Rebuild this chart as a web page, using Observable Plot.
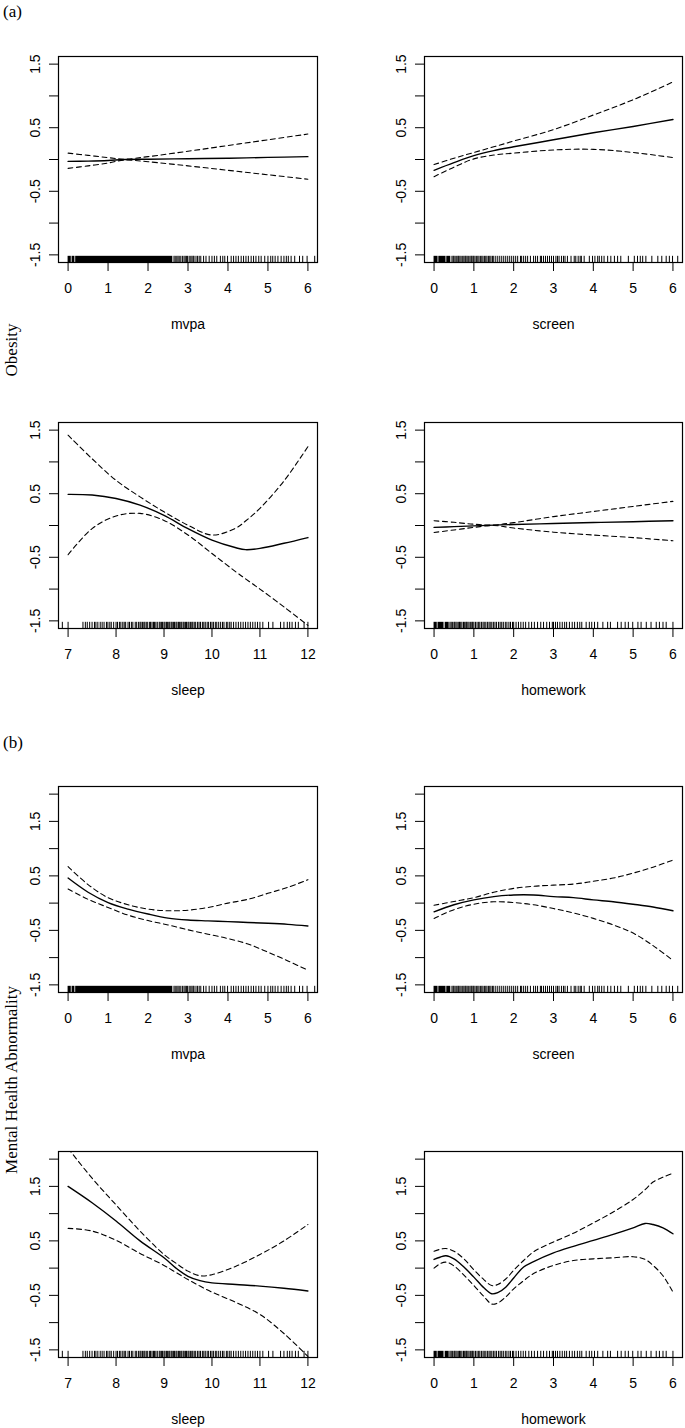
<!DOCTYPE html>
<html><head><meta charset="utf-8">
<script src="https://cdn.jsdelivr.net/npm/d3@7"></script>
<script src="https://cdn.jsdelivr.net/npm/@observablehq/plot@0.6"></script>
<style>
body{margin:0;background:#fff;}
#root{position:relative;width:685px;height:1428px;overflow:hidden;background:#fff;}
.panel{position:absolute;}
.serif{position:absolute;font-family:"Liberation Serif","Times New Roman",serif;font-size:17px;line-height:20px;color:#000;white-space:nowrap;}
.rot{transform:translate(-50%,-50%) rotate(-90deg);}
</style></head><body><div id="root"></div>
<script>
// ---------- x grids and smooth curves (fit, upper, lower) ----------
// (a) Obesity
const a_mvpa_x   = [0, 0.5, 1, 1.4, 2, 3, 4, 5, 6];
const a_mvpa_fit = [-0.03, -0.025, -0.015, 0, 0.005, 0.012, 0.02, 0.033, 0.045];
const a_mvpa_hi  = [0.10, 0.065, 0.03, 0.005, 0.045, 0.13, 0.22, 0.31, 0.40];
const a_mvpa_lo  = [-0.14, -0.10, -0.055, -0.01, -0.035, -0.10, -0.17, -0.24, -0.31];

const a_screen_x   = [0, 0.5, 1, 1.5, 2, 3, 4, 5, 6];
const a_screen_fit = [-0.17, -0.05, 0.06, 0.14, 0.2, 0.31, 0.42, 0.52, 0.63];
const a_screen_hi  = [-0.08, 0.02, 0.11, 0.2, 0.29, 0.47, 0.70, 0.94, 1.22];
const a_screen_lo  = [-0.27, -0.12, 0.01, 0.07, 0.10, 0.15, 0.16, 0.11, 0.03];

const a_sleep_x   = [7, 7.5, 8, 8.5, 9, 9.5, 10, 10.5, 10.7, 11, 11.5, 12];
const a_sleep_fit = [0.49, 0.48, 0.425, 0.32, 0.16, -0.05, -0.23, -0.35, -0.38, -0.36, -0.28, -0.19];
const a_sleep_hi  = [1.42, 1.05, 0.71, 0.45, 0.215, 0.005, -0.15, -0.04, 0.07, 0.27, 0.70, 1.24];
const a_sleep_lo  = [-0.46, -0.05, 0.15, 0.19, 0.08, -0.15, -0.44, -0.73, -0.84, -1.0, -1.28, -1.57];

const a_hw_x   = [0, 0.5, 1, 1.5, 2, 3, 4, 5, 6];
const a_hw_fit = [-0.03, -0.018, -0.006, 0.006, 0.015, 0.032, 0.047, 0.06, 0.075];
const a_hw_hi  = [0.075, 0.05, 0.02, 0.008, 0.045, 0.14, 0.22, 0.30, 0.38];
const a_hw_lo  = [-0.11, -0.07, -0.03, 0.0, -0.04, -0.105, -0.15, -0.19, -0.24];

// (b) Mental Health Abnormality
const b_mvpa_x   = [0, 0.5, 1, 1.5, 2, 2.5, 3, 3.5, 4, 4.5, 5, 5.5, 6];
const b_mvpa_fit = [0.46, 0.2, 0.01, -0.11, -0.2, -0.275, -0.31, -0.325, -0.34, -0.355, -0.37, -0.39, -0.42];
const b_mvpa_hi  = [0.67, 0.34, 0.10, -0.03, -0.11, -0.14, -0.13, -0.08, 0.0, 0.07, 0.18, 0.29, 0.43];
const b_mvpa_lo  = [0.26, 0.07, -0.08, -0.22, -0.32, -0.40, -0.49, -0.57, -0.65, -0.75, -0.9, -1.06, -1.23];

const b_screen_x   = [0, 0.5, 1, 1.5, 2, 2.5, 3, 3.5, 4, 4.5, 5, 5.5, 6];
const b_screen_fit = [-0.16, -0.03, 0.06, 0.12, 0.15, 0.15, 0.12, 0.1, 0.06, 0.025, -0.02, -0.07, -0.14];
const b_screen_hi  = [-0.04, 0.03, 0.1, 0.2, 0.27, 0.31, 0.33, 0.35, 0.40, 0.46, 0.55, 0.66, 0.79];
const b_screen_lo  = [-0.28, -0.12, -0.02, 0.025, 0.01, -0.03, -0.1, -0.18, -0.28, -0.4, -0.55, -0.78, -1.05];

const b_sleep_x   = [7, 7.5, 8, 8.5, 9, 9.25, 9.5, 9.75, 10, 10.5, 11, 11.5, 12];
const b_sleep_fit = [1.5, 1.2, 0.865, 0.5, 0.19, 0.0, -0.15, -0.23, -0.27, -0.3, -0.33, -0.37, -0.42];
const b_sleep_hi  = [2.2, 1.65, 1.16, 0.68, 0.25, 0.09, -0.055, -0.14, -0.12, 0.035, 0.25, 0.5, 0.8];
const b_sleep_lo  = [0.73, 0.68, 0.51, 0.27, 0.05, -0.08, -0.21, -0.33, -0.44, -0.63, -0.85, -1.2, -1.62];

const b_hw_x   = [0, 0.15, 0.3, 0.5, 0.75, 1, 1.25, 1.45, 1.6, 1.8, 2, 2.25, 2.5, 3, 3.5, 4, 4.5, 5, 5.3, 5.5, 5.75, 6];
const b_hw_fit = [0.16, 0.2, 0.227, 0.17, 0.02, -0.165, -0.36, -0.47, -0.45, -0.35, -0.18, 0.02, 0.12, 0.28, 0.4, 0.51, 0.62, 0.74, 0.82, 0.8, 0.74, 0.63];
const b_hw_hi  = [0.31, 0.345, 0.36, 0.31, 0.17, -0.03, -0.21, -0.32, -0.3, -0.2, -0.04, 0.14, 0.3, 0.48, 0.64, 0.83, 1.03, 1.26, 1.44, 1.58, 1.67, 1.74];
const b_hw_lo  = [0.0, 0.08, 0.11, 0.04, -0.13, -0.32, -0.52, -0.66, -0.64, -0.53, -0.38, -0.23, -0.1, 0.05, 0.14, 0.17, 0.19, 0.21, 0.16, 0.05, -0.14, -0.44];

// ---------- rug (observed values) ----------
const mvpaRugSolid = [[0.0, 0.08], [0.1, 0.17], [0.19, 2.62]];
const mvpaRug = [2.65,2.68,2.72,2.75,2.78,2.82,2.86,2.9,2.93,2.96,2.99,3.03,3.07,3.10,3.13,3.15,3.2,3.24,3.28,3.32,3.39,3.45,3.53,3.60,3.66,3.72,3.81,3.87,3.92,3.99,4.08,4.14,4.20,4.26,4.33,4.39,4.45,4.51,4.58,4.64,4.70,4.77,4.83,4.92,5.0,5.07,5.12,5.18,5.25,5.33,5.40,5.46,5.51,5.58,5.67,5.79,5.87,5.98,6.17];

const screenRugSolid = [[0.0, 0.1], [0.12, 0.3], [0.32, 0.42]];
const screenRug = [0.45,0.48,0.5,0.53,0.57,0.6,0.62,0.65,0.68,0.72,0.75,0.78,0.8,0.83,0.86,0.9,0.93,0.95,0.98,1.0,1.03,1.07,1.1,1.13,1.17,1.2,1.23,1.27,1.3,1.33,1.37,1.4,1.43,1.47,1.5,1.55,1.6,1.65,1.7,1.75,1.8,1.85,1.9,1.95,2.0,2.05,2.1,2.17,2.2,2.25,2.3,2.35,2.42,2.5,2.55,2.6,2.67,2.7,2.75,2.8,2.85,2.9,2.95,3.0,3.06,3.10,3.14,3.20,3.25,3.29,3.35,3.44,3.52,3.56,3.62,3.67,3.70,3.77,3.90,3.98,4.04,4.11,4.15,4.21,4.27,4.36,4.44,4.53,4.61,4.69,4.88,5.03,5.11,5.18,5.24,5.32,5.47,5.62,5.72,5.83,5.91,5.99,6.12];

const sleepRugSolid = [];
const sleepRug = [6.88,7.0,7.31,7.36,7.4,7.45,7.5,7.55,7.58,7.62,7.67,7.71,7.75,7.8,7.83,7.87,7.9,7.95,8.0,8.03,8.07,8.1,8.14,8.17,8.2,8.25,8.28,8.32,8.35,8.4,8.43,8.47,8.5,8.52,8.55,8.58,8.6,8.63,8.66,8.7,8.72,8.75,8.78,8.8,8.83,8.86,8.9,8.92,8.95,8.97,9.0,9.02,9.05,9.07,9.1,9.12,9.15,9.17,9.2,9.22,9.25,9.27,9.3,9.32,9.35,9.37,9.4,9.42,9.45,9.47,9.5,9.52,9.55,9.58,9.6,9.63,9.66,9.7,9.73,9.76,9.8,9.83,9.86,9.9,9.93,9.97,10.0,10.03,10.07,10.1,10.14,10.18,10.22,10.25,10.3,10.33,10.37,10.4,10.45,10.5,10.55,10.6,10.65,10.7,10.75,10.8,10.85,10.9,10.95,11.0,11.06,11.18,11.27,11.43,11.5,11.57,11.62,11.67,11.74,11.8,11.92,12.0];

const hwRugSolid = [[0.0, 0.08], [0.1, 0.25], [0.28, 0.38]];
const hwRug = [0.4,0.43,0.46,0.5,0.52,0.55,0.58,0.62,0.64,0.67,0.7,0.74,0.77,0.8,0.82,0.85,0.88,0.92,0.95,0.97,1.0,1.04,1.08,1.12,1.15,1.19,1.23,1.26,1.3,1.34,1.38,1.41,1.45,1.49,1.53,1.57,1.62,1.66,1.7,1.74,1.79,1.83,1.88,1.92,1.97,2.0,2.06,2.12,2.18,2.24,2.3,2.38,2.45,2.52,2.6,2.68,2.75,2.83,2.9,2.97,3.0,3.05,3.1,3.16,3.22,3.28,3.33,3.4,3.47,3.53,3.6,3.66,3.71,3.82,3.90,3.96,4.03,4.11,4.24,4.36,4.43,4.61,4.70,4.80,4.88,4.99,5.12,5.20,5.33,5.45,5.58,5.66,5.75,5.83,6.0];

// ---------- axes ----------
const hoursDomain = [-0.24, 6.24];
const hoursTicks = [0, 1, 2, 3, 4, 5, 6];
const sleepDomain = [6.8, 12.2];
const sleepTicks = [7, 8, 9, 10, 11, 12];
const aYDomain = [-1.62, 1.62];
const aYTicks = [-1.5, -1, -0.5, 0, 0.5, 1, 1.5];
const bYDomain = [-1.64, 2.14];
const bYTicks = [-1.5, -1, -0.5, 0, 0.5, 1, 1.5, 2];
const yTickLabels = [-1.5, -0.5, 0.5, 1.5];

const root = document.getElementById("root");
const FONT = "'Liberation Sans', Arial, Helvetica, sans-serif";
const BOX_H = 206, MT = 30, MB = 72;

function panel(o) {
  const rows = o.xs.map((x, i) => ({x, fit: o.fit[i], hi: o.hi[i], lo: o.lo[i]}));
  const [y0, y1] = o.yDomain;
  const rugTop = y0 + 0.03 * (y1 - y0);
  const left = o.col === 0;
  const plot = Plot.plot({
    width: left ? 340 : 345,
    height: BOX_H + MT + MB,
    marginTop: MT, marginBottom: MB,
    marginLeft: left ? 58 : 84,
    marginRight: left ? 23 : 3,
    x: {domain: o.xDomain},
    y: {domain: o.yDomain},
    style: {fontSize: "14px", fontFamily: FONT, color: "#000", background: "transparent", overflow: "visible"},
    marks: [
      Plot.rect(o.rugSolid, {x1: d => d[0], x2: d => d[1], y1: () => y0, y2: () => rugTop, fill: "#000"}),
      Plot.ruleX(o.rug, {x: d => d, y1: () => y0, y2: () => rugTop, stroke: "#000", strokeWidth: 1}),
      Plot.line(rows, {x: "x", y: "hi", curve: "catmull-rom", stroke: "#000", strokeWidth: 1.1, strokeDasharray: "5,3.5", clip: true}),
      Plot.line(rows, {x: "x", y: "lo", curve: "catmull-rom", stroke: "#000", strokeWidth: 1.1, strokeDasharray: "5,3.5", clip: true}),
      Plot.line(rows, {x: "x", y: "fit", curve: "catmull-rom", stroke: "#000", strokeWidth: 1.4, clip: true}),
      Plot.frame({stroke: "#000", strokeWidth: 1.2}),
      Plot.axisX({ticks: o.xTicks, tickSize: 9, tickPadding: 12, label: null, tickFormat: d => String(d), stroke: "#000"}),
      Plot.axisY({ticks: o.yTicks, tickSize: 9, tickPadding: 10, tickRotate: -90, label: null,
        tickFormat: d => yTickLabels.includes(d) ? String(d) : "", stroke: "#000"}),
      Plot.text([o.label], {text: d => d, frameAnchor: "bottom", dy: 62, lineAnchor: "middle", fill: "#000"})
    ]
  });
  const div = document.createElement("div");
  div.className = "panel";
  div.style.left = (left ? 0 : 340) + "px";
  div.style.top = (o.boxTop - MT) + "px";
  div.appendChild(plot);
  root.appendChild(div);
}

const aTop1 = 56, aTop2 = 422, bTop1 = 786, bTop2 = 1151;
panel({col: 0, boxTop: aTop1, xDomain: hoursDomain, xTicks: hoursTicks, yDomain: aYDomain, yTicks: aYTicks, label: "mvpa",
  xs: a_mvpa_x, fit: a_mvpa_fit, hi: a_mvpa_hi, lo: a_mvpa_lo, rug: mvpaRug, rugSolid: mvpaRugSolid});
panel({col: 1, boxTop: aTop1, xDomain: hoursDomain, xTicks: hoursTicks, yDomain: aYDomain, yTicks: aYTicks, label: "screen",
  xs: a_screen_x, fit: a_screen_fit, hi: a_screen_hi, lo: a_screen_lo, rug: screenRug, rugSolid: screenRugSolid});
panel({col: 0, boxTop: aTop2, xDomain: sleepDomain, xTicks: sleepTicks, yDomain: aYDomain, yTicks: aYTicks, label: "sleep",
  xs: a_sleep_x, fit: a_sleep_fit, hi: a_sleep_hi, lo: a_sleep_lo, rug: sleepRug, rugSolid: sleepRugSolid});
panel({col: 1, boxTop: aTop2, xDomain: hoursDomain, xTicks: hoursTicks, yDomain: aYDomain, yTicks: aYTicks, label: "homework",
  xs: a_hw_x, fit: a_hw_fit, hi: a_hw_hi, lo: a_hw_lo, rug: hwRug, rugSolid: hwRugSolid});
panel({col: 0, boxTop: bTop1, xDomain: hoursDomain, xTicks: hoursTicks, yDomain: bYDomain, yTicks: bYTicks, label: "mvpa",
  xs: b_mvpa_x, fit: b_mvpa_fit, hi: b_mvpa_hi, lo: b_mvpa_lo, rug: mvpaRug, rugSolid: mvpaRugSolid});
panel({col: 1, boxTop: bTop1, xDomain: hoursDomain, xTicks: hoursTicks, yDomain: bYDomain, yTicks: bYTicks, label: "screen",
  xs: b_screen_x, fit: b_screen_fit, hi: b_screen_hi, lo: b_screen_lo, rug: screenRug, rugSolid: screenRugSolid});
panel({col: 0, boxTop: bTop2, xDomain: sleepDomain, xTicks: sleepTicks, yDomain: bYDomain, yTicks: bYTicks, label: "sleep",
  xs: b_sleep_x, fit: b_sleep_fit, hi: b_sleep_hi, lo: b_sleep_lo, rug: sleepRug, rugSolid: sleepRugSolid});
panel({col: 1, boxTop: bTop2, xDomain: hoursDomain, xTicks: hoursTicks, yDomain: bYDomain, yTicks: bYTicks, label: "homework",
  xs: b_hw_x, fit: b_hw_fit, hi: b_hw_hi, lo: b_hw_lo, rug: hwRug, rugSolid: hwRugSolid});

function serif(text, x, y, rotate) {
  const d = document.createElement("div");
  d.className = "serif" + (rotate ? " rot" : "");
  d.textContent = text;
  d.style.left = x + "px";
  d.style.top = y + "px";
  root.appendChild(d);
}
serif("(a)", 3, 2, false);
serif("(b)", 3, 733, false);
serif("Obesity", 12, 350, true);
serif("Mental Health Abnormality", 12, 1080, true);
</script></body></html>
